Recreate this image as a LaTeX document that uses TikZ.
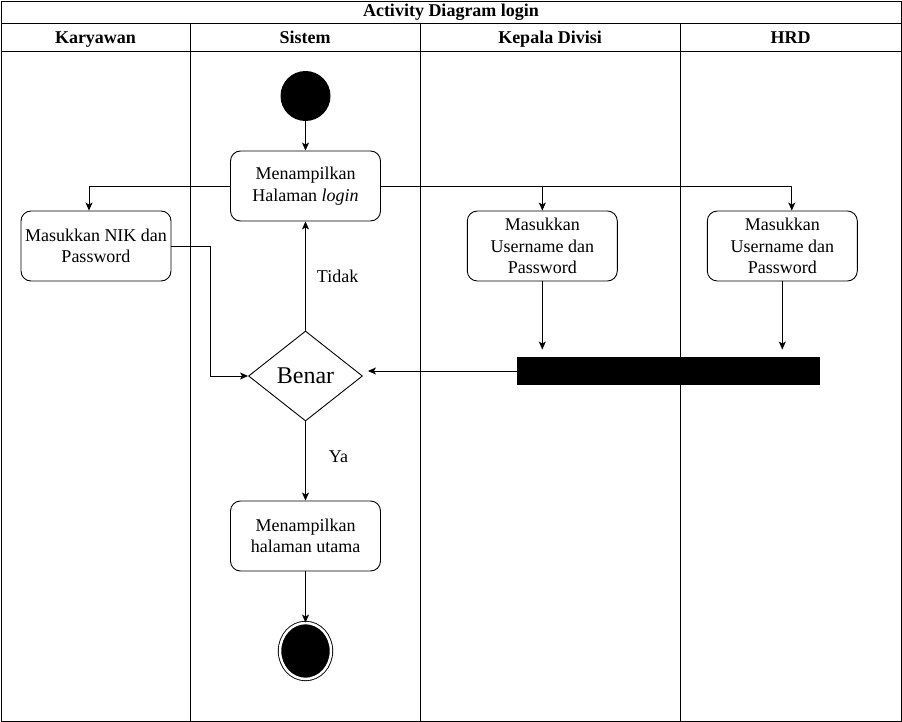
\documentclass[tikz,border=0pt]{standalone}
\usepackage{fontspec}
\setmainfont{Liberation Serif}
\usetikzlibrary{arrows.meta,shapes.geometric}

\begin{document}
\begin{tikzpicture}[x=1pt,y=-1pt,->,>={Stealth[length=8pt,width=7pt,inset=2pt]},line width=0.9pt,
  act node/.style={rectangle,rounded corners=10,draw,align=center,minimum width=150,minimum height=70,inner sep=0,font=\fontsize{18}{21.6}\selectfont},
  decision/.style={diamond,draw,minimum width=114,minimum height=90,inner sep=0,font=\fontsize{24}{28}\selectfont},
  initial/.style={circle,fill=black,minimum size=50,inner sep=0},
  final/.style={ellipse,draw,fill=black,double=white,double distance=2.5,minimum width=51,minimum height=56,inner sep=0},
  join bar/.style={rectangle,fill=black,minimum width=303,minimum height=28,inner sep=0},
  lane head/.style={font=\fontsize{18}{21.6}\selectfont\bfseries,text height=12,text depth=0,inner sep=0},
  guard/.style={font=\fontsize{18}{21.6}\selectfont,inner sep=0,anchor=west}]

  \useasboundingbox (0,0) rectangle (902,722);

  % swimlanes
  \draw[-] (1,1) rectangle (901,721);
  \draw[-] (1,23) -- (901,23);
  \draw[-] (1,51) -- (901,51);
  \foreach \x in {190,420,680}
    \draw[-] (\x,23) -- (\x,721);
  \node[lane head] (judul) at (451,11) {Activity Diagram login};
  \foreach \x/\name/\txt in {
    {95.5/karyawan/Karyawan},
    {305/sistem/Sistem},
    {550/kadivhead/Kepala Divisi},
    {790.5/hrdhead/HRD}}
  \node[lane head] (\name) at (\x,37.3) {\txt};

  % activities
  \node[initial] (mulai) at (305.5,96) {};
  \node[act node] (login) at (305.5,186) {Menampilkan\\Halaman \textit{login}};
  \node[act node] (nik) at (96,246) {Masukkan NIK dan\\Password};
  \node[act node] (kadiv) at (542.3,246) {Masukkan\\Username dan\\Password};
  \node[act node] (hrd) at (782.3,246) {Masukkan\\Username dan\\Password};
  \node[join bar] (bar) at (668.5,371) {};
  \node[decision] (cek) at (305.5,376) {Benar};
  \node[act node] (utama) at (305.5,536) {Menampilkan\\halaman utama};
  \node[final] (selesai) at (305.5,651) {};
  \coordinate (nikturn) at (210,246);

  \draw (login.west) -| ([xshift=-7]nik.north);
  \draw (login.east) -| (kadiv.north);
  \draw (login.east) -| ([xshift=9.5]hrd.north);
  \draw (nik.east) -- (nikturn) |- (cek.west);

  \path
    (mulai) edge (login)
    (kadiv.south) edge[shorten >=7] (kadiv.south |- bar.north)
    (hrd.south) edge[shorten >=7] (hrd.south |- bar.north)
    (bar.west) edge[shorten >=5] (bar.west -| cek.east)
    (cek) edge node[guard,xshift=11] {Tidak} (login)
    (cek) edge node[guard,pos=0.45,xshift=23] {Ya} (utama)
    (utama) edge (selesai);
\end{tikzpicture}
\end{document}
